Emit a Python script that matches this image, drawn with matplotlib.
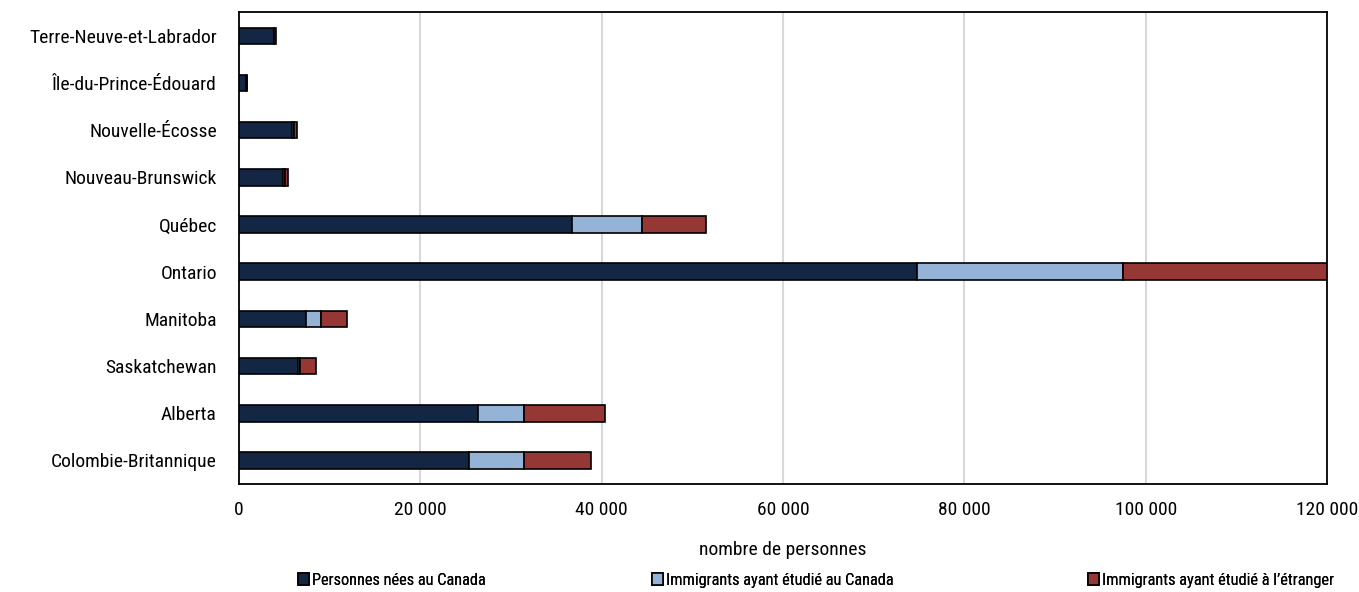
import matplotlib.pyplot as plt
import numpy as np
from matplotlib.patches import Patch

provinces = [
    "Terre-Neuve-et-Labrador",
    "Île-du-Prince-Édouard",
    "Nouvelle-Écosse",
    "Nouveau-Brunswick",
    "Québec",
    "Ontario",
    "Manitoba",
    "Saskatchewan",
    "Alberta",
    "Colombie-Britannique",
]
nes_canada = [3800, 800, 5800, 4900, 36700, 74800, 7400, 6500, 26400, 25400]
immig_canada = [100, 50, 250, 200, 7700, 22700, 1600, 200, 5000, 6000]
immig_etranger = [200, 50, 350, 300, 7100, 22500, 2900, 1800, 9000, 7400]

series = [
    ("Personnes nées au Canada", nes_canada, "#132744"),
    ("Immigrants ayant étudié au Canada", immig_canada, "#95b3d7"),
    ("Immigrants ayant étudié à l’étranger", immig_etranger, "#953735"),
]

plt.rcParams["font.family"] = ["Roboto Condensed", "DejaVu Sans"]
plt.rcParams["font.size"] = 14

fig = plt.figure(figsize=(13.59, 5.92), dpi=100)
ax = fig.add_axes([0.1759, 0.1824, 0.8006, 0.797])

y = np.arange(len(provinces))
left = np.zeros(len(provinces))
for label, vals, color in series:
    vals = np.array(vals, dtype=float)
    ax.barh(y, vals, left=left, height=0.35, color=color,
            edgecolor="black", linewidth=1.2, label=label, zorder=3)
    left += vals

ax.set_yticks(y)
ax.set_yticklabels(provinces)
ax.set_ylim(len(provinces) - 0.5, -0.5)
ax.set_xlim(0, 120000)
ax.set_xticks(np.arange(0, 120001, 20000))
ax.set_xticklabels([f"{v:,}".replace(",", " ") for v in range(0, 120001, 20000)])
ax.xaxis.grid(True, color="#d9d9d9", linewidth=1.5, zorder=0)
ax.tick_params(axis="y", length=0, pad=16)
ax.tick_params(axis="x", length=0, pad=12)
for s in ax.spines.values():
    s.set_color("black")
    s.set_linewidth(1.3)
ax.set_xlabel("nombre de personnes", labelpad=16)

# legend entries placed individually, like the original
legend_x = [0.219, 0.4795, 0.8005]
for (label, _, color), lx in zip(series, legend_x):
    h = Patch(facecolor=color, edgecolor="black", linewidth=1.2, label=label)
    leg = fig.legend(handles=[h], loc="center left", bbox_to_anchor=(lx, 0.02),
                     frameon=False, fontsize=11.8, handlelength=0.7,
                     handleheight=0.7, handletextpad=0.15, borderpad=0,
                     borderaxespad=0)
    fig.add_artist(leg)

fig.savefig("out.png", dpi=100)
